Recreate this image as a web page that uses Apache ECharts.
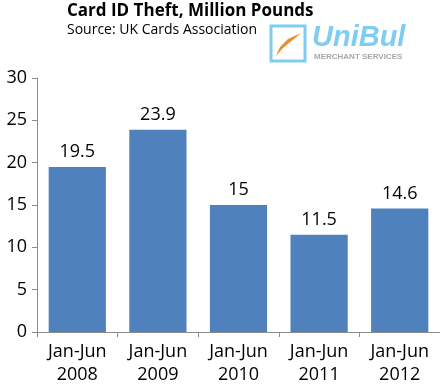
<!DOCTYPE html>
<html><head><meta charset="utf-8">
<script src="https://cdn.jsdelivr.net/npm/echarts@6/dist/echarts.min.js"></script>
<style>html,body{margin:0;padding:0;background:#fff}#c{width:440px;height:388px}</style>
</head><body><div id="c"></div>
<script>
const categories = ['Jan-Jun\n2008','Jan-Jun\n2009','Jan-Jun\n2010','Jan-Jun\n2011','Jan-Jun\n2012'];
const values = [19.5, 23.9, 15, 11.5, 14.6];
const yTicks = [0, 5, 10, 15, 20, 25, 30];
const FONT = '"Open Sans", "Noto Sans", sans-serif';
const chart = echarts.init(document.getElementById('c'), null, {renderer:'canvas'});
chart.setOption({
  animation:false,
  backgroundColor:'#fff',
  grid:{left:37, right:0, top:78, bottom:56, containLabel:false},
  graphic:[
    {type:'text', x:67, y:3, style:{text:'Card ID Theft, Million Pounds', fontSize:17, fontWeight:'bold', fontFamily:FONT, fill:'#000'}},
    {type:'text', x:67, y:23, style:{text:'Source: UK Cards Association', fontSize:14, fontFamily:FONT, fill:'#000'}},
    {type:'rect', shape:{x:271, y:26, width:34, height:35}, style:{fill:'#fff', stroke:'#7fcdf3', lineWidth:3}},
    {type:'polygon', shape:{points:[[276,56],[280,47],[288,39],[301,33],[294,39],[289,43],[283,48]]}, style:{fill:'#f08c2a'}},
    {type:'text', x:312, y:23, style:{text:'UniBul', fontSize:29, fontStyle:'italic', fontWeight:'bold', fontFamily:'"Liberation Sans", sans-serif', fill:'#7fcdf3'}},
    {type:'text', x:314, y:53, style:{text:'MERCHANT SERVICES', fontSize:8, fontWeight:'bold', fontFamily:'"Liberation Sans", sans-serif', fill:'#a8a8a8'}}
  ],
  xAxis:{type:'category', data:categories,
    axisLine:{lineStyle:{color:'#8c8c8c', width:1}},
    axisTick:{show:true, length:5, alignWithLabel:false, lineStyle:{color:'#8c8c8c'}},
    axisLabel:{color:'#000', fontSize:18, fontFamily:FONT, lineHeight:23, margin:8}},
  yAxis:{type:'value', min:0, max:30, interval:5,
    axisLine:{show:true, lineStyle:{color:'#8c8c8c'}},
    axisTick:{show:true, length:5, inside:false, lineStyle:{color:'#8c8c8c'}},
    splitLine:{show:false},
    axisLabel:{color:'#000', fontSize:18, fontFamily:FONT, margin:10,
      formatter:v=> yTicks.includes(v) ? String(v) : ''}},
  series:[{type:'bar', data:values, barCategoryGap:'29%',
    itemStyle:{color:'#4f81bd'},
    label:{show:true, position:'top', distance:6, color:'#000', fontSize:18, fontFamily:FONT}}]
});
</script></body></html>
